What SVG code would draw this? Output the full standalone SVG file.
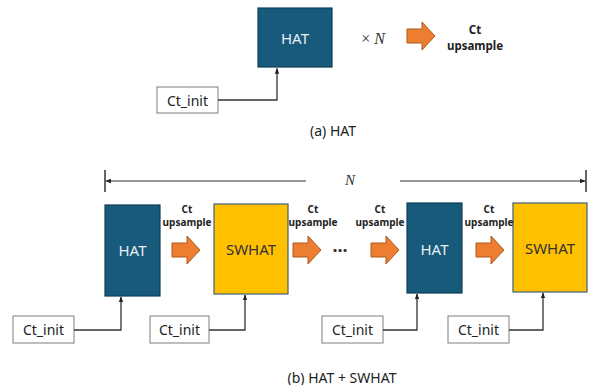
<svg xmlns="http://www.w3.org/2000/svg" width="598" height="385" viewBox="0 0 598 385">
<defs>
<style>
.hat{fill:#175a7c;stroke:#0f3f58;stroke-width:1.2}
.sw{fill:#ffc000;stroke:#3d6179;stroke-width:1.2}
.init{fill:#fff;stroke:#7f7f7f;stroke-width:1}
.ar{fill:#ed7d31;stroke:#ae5a21;stroke-width:1}
.t{font-family:"Noto Sans","Open Sans",sans-serif;text-anchor:middle;dominant-baseline:central}
.wt{fill:#e8eef2;font-size:15px}
.dt{fill:#333;font-size:15px}
.it{fill:#222;font-size:14px}
.lb{fill:#222;font-size:10px;font-weight:bold}
.lbt{fill:#222;font-size:11.5px;font-weight:bold}
.cap{fill:#222;font-size:14px}
.cn{fill:none;stroke:#333;stroke-width:1.3}
</style>
<marker id="ah" viewBox="0 0 8 8" refX="7" refY="4" markerWidth="6" markerHeight="6" orient="auto-start-reverse" markerUnits="userSpaceOnUse">
<path d="M0,1 L8,4 L0,7 z" fill="#222"/>
</marker>
<path id="blk" d="M0,-7 L15,-7 L15,-14 L28,0 L15,14 L15,7 L0,7 z"/>
</defs>

<g id="top-hat"><rect class="hat" x="258" y="8" width="74" height="59"/><text class="t wt" x="295" y="38">HAT</text></g>
<text x="373" y="38" font-family="Liberation Serif,serif" font-size="16" fill="#333" text-anchor="middle" dominant-baseline="central">× <tspan font-style="italic">N</tspan></text>
<g id="top-arrow"><use href="#blk" class="ar" x="407" y="36"/></g>
<g id="top-label"><text class="t lbt" x="475" y="29">Ct</text><text class="t lbt" x="475" y="45">upsample</text></g>
<g id="top-init"><rect class="init" x="157" y="87" width="61" height="26"/><text class="t it" x="187.5" y="100">Ct_init</text></g>
<text class="t cap" x="333" y="130">(a) HAT</text>

<g id="n-bracket">
<line x1="105" y1="170" x2="105" y2="192" stroke="#333" stroke-width="1.5"/>
<line x1="586" y1="170" x2="586" y2="192" stroke="#333" stroke-width="1.5"/>
<line x1="106" y1="181" x2="306" y2="181" stroke="#333" stroke-width="1.2" marker-start="url(#ah)"/>
<line x1="400" y1="181" x2="585" y2="181" stroke="#333" stroke-width="1.2" marker-end="url(#ah)"/>
<text x="350" y="180" font-family="Liberation Serif,serif" font-size="15" font-style="italic" fill="#333" text-anchor="middle" dominant-baseline="central">N</text>
</g>

<g id="hat1"><rect class="hat" x="105" y="205" width="55" height="91"/><text class="t wt" x="132.5" y="250">HAT</text></g>
<g id="swhat1"><rect class="sw" x="214" y="204" width="74" height="90"/><text class="t dt" x="251" y="249">SWHAT</text></g>
<g id="hat2"><rect class="hat" x="407" y="203" width="55" height="90"/><text class="t wt" x="434.5" y="249">HAT</text></g>
<g id="swhat2"><rect class="sw" x="513" y="203" width="74" height="89"/><text class="t dt" x="550" y="248">SWHAT</text></g>

<g id="arrows">
<use href="#blk" class="ar" x="172" y="250"/>
<use href="#blk" class="ar" x="293" y="250"/>
<use href="#blk" class="ar" x="371" y="250"/>
<use href="#blk" class="ar" x="476" y="250"/>
</g>
<g id="labels">
<text class="t lb" x="187" y="209">Ct</text><text class="t lb" x="187" y="222">upsample</text>
<text class="t lb" x="313" y="209">Ct</text><text class="t lb" x="313" y="222">upsample</text>
<text class="t lb" x="380" y="209">Ct</text><text class="t lb" x="380" y="222">upsample</text>
<text class="t lb" x="489" y="209">Ct</text><text class="t lb" x="489" y="222">upsample</text>
</g>
<text class="t" x="340" y="250" font-size="18" font-weight="bold" fill="#333">···</text>

<g id="init1"><rect class="init" x="13" y="316" width="61" height="27"/><text class="t it" x="43.5" y="329.5">Ct_init</text></g>
<g id="init2"><rect class="init" x="150" y="316" width="59" height="27"/><text class="t it" x="179.5" y="329.5">Ct_init</text></g>
<g id="init3"><rect class="init" x="322" y="316" width="61" height="27"/><text class="t it" x="352.5" y="329.5">Ct_init</text></g>
<g id="init4"><rect class="init" x="448" y="316" width="61" height="27"/><text class="t it" x="478.5" y="329.5">Ct_init</text></g>

<g id="connectors">
<path class="cn" d="M218,100 H277 V68.5" marker-end="url(#ah)"/>
<path class="cn" d="M74,330 H121 V297" marker-end="url(#ah)"/>
<path class="cn" d="M209,330 H245 V295" marker-end="url(#ah)"/>
<path class="cn" d="M383,330 H417 V294" marker-end="url(#ah)"/>
<path class="cn" d="M509,330 H543 V293" marker-end="url(#ah)"/>
</g>

<text class="t cap" x="342" y="377">(b) HAT + SWHAT</text>
</svg>
